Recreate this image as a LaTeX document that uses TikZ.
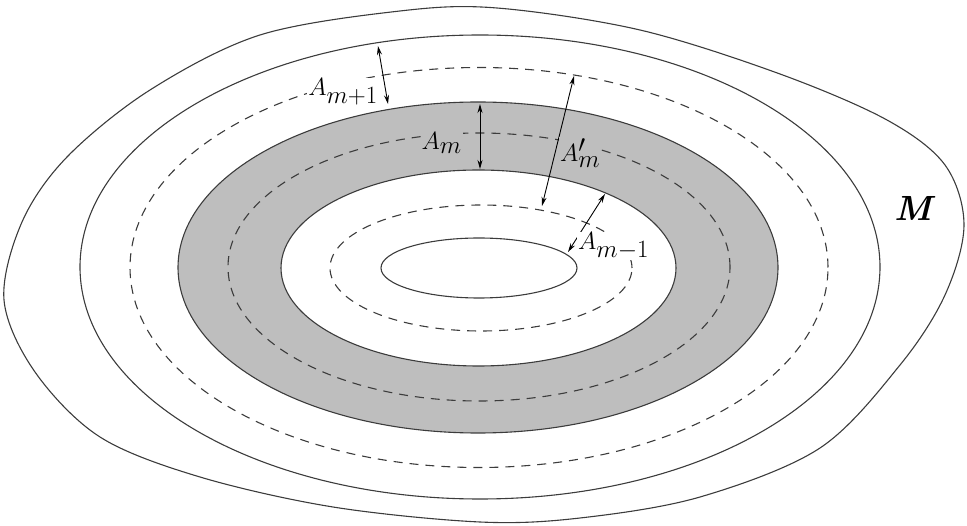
\documentclass[tikz,border=0pt]{standalone}
\usetikzlibrary{arrows.meta}
\definecolor{annulus}{RGB}{190,190,190}
\definecolor{linegray}{RGB}{60,60,60}
\begin{document}
\begin{tikzpicture}[x=1pt,y=-1pt,
  solidline/.style={draw=linegray,line width=1.1pt},
  dashline/.style={draw=linegray,line width=1.1pt,dash pattern=on 9pt off 7pt},
  dim/.style={draw=black,line width=0.9pt,{Stealth[length=9pt,width=5pt]}-{Stealth[length=9pt,width=5pt]}},
  lbl/.style={inner sep=1pt,font=\fontsize{35}{40}\selectfont}]
\useasboundingbox (0,0) rectangle (967,526);
% gray annulus
\fill[annulus,even odd rule] (478,267.5) ellipse[x radius=300pt,y radius=165.5pt]
  (478.5,268) ellipse[x radius=197.5pt,y radius=98pt];
\draw[solidline] (478,267.5) ellipse[x radius=300pt,y radius=165.5pt];
\draw[solidline] (478.5,268) ellipse[x radius=197.5pt,y radius=98pt];
% innermost solid
\draw[solidline] (479,268) ellipse[x radius=98pt,y radius=30pt];
% dashed curves
\draw[dashline] (481,268) ellipse[x radius=151pt,y radius=63pt];
\draw[dashline] (479,267) ellipse[x radius=251pt,y radius=134pt];
\draw[dashline] (479,267.5) ellipse[x radius=349pt,y radius=200pt];
% second solid curve
\draw[solidline] (480,267) ellipse[x radius=400pt,y radius=232pt];
% outermost curve
\draw[solidline] plot[smooth cycle,tension=0.55] coordinates {
 (4,300) (22,222) (67,157) (150,90) (260,35) (400,11) (497,8) (640,30) (780,74)
 (887,120) (945,165) (964,225) (945,295) (900,365) (820,448) (700,497) (580,518)
 (480,522) (333,507) (200,477) (100,437) (35,372)};
% dimension arrows
\coordinate (p1a) at (378,46);
\coordinate (p1b) at (388,104);
\coordinate (p2a) at (480,104);
\coordinate (p2b) at (480,169);
\coordinate (p3a) at (574,76);
\coordinate (p3b) at (542,206);
\coordinate (p4a) at (605,194);
\coordinate (p4b) at (568,252);
\draw[dim] (p1a) -- (p1b);
\draw[dim] (p2a) -- (p2b);
\draw[dim] (p3a) -- (p3b);
\draw[dim] (p4a) -- (p4b);
% labels
\node[lbl,fill=white,anchor=east] (lAp) at (379,92) {$A_{m+1}$};
\node[lbl,fill=annulus,anchor=east] (lAm) at (463,143) {$A_m$};
\node[lbl,fill=annulus,anchor=west] (lApr) at (559,153) {$A'_m$};
\node[lbl,fill=white,anchor=west] (lAmm) at (577,246) {$A_{m-1}$};
\node[lbl] (lM) at (915,208) {\textbf{\textit{M}}};
\end{tikzpicture}
\end{document}
